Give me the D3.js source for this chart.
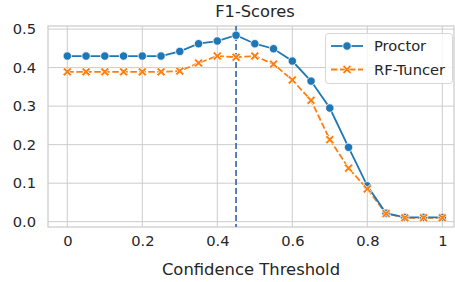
<!DOCTYPE html>
<html><head><meta charset="utf-8">
<script src="https://cdn.jsdelivr.net/npm/d3@7"></script>
<style>body{margin:0;background:#fff}svg{display:block;font-family:"DejaVu Sans",sans-serif}</style>
</head><body>
<script>
const thresholds = [0,0.05,0.1,0.15,0.2,0.25,0.3,0.35,0.4,0.45,0.5,0.55,0.6,0.65,0.7,0.75,0.8,0.85,0.9,0.95,1.0];
const proctor = [0.430,0.430,0.430,0.430,0.430,0.430,0.442,0.462,0.469,0.484,0.462,0.449,0.417,0.365,0.295,0.193,0.093,0.022,0.011,0.011,0.011];
const rfTuncer = [0.389,0.389,0.389,0.389,0.389,0.389,0.391,0.412,0.430,0.427,0.430,0.409,0.368,0.315,0.213,0.139,0.085,0.021,0.010,0.010,0.010];
const xTicks = [0,0.2,0.4,0.6,0.8,1];
const xTickLabels = ["0","0.2","0.4","0.6","0.8","1"];
const yTicks = [0,0.1,0.2,0.3,0.4,0.5];
const bestThreshold = 0.45;
const seriesNames = ["Proctor","RF-Tuncer"];

const W=455,H=282;
const plot={l:48,r:454,t:26,b:227};
const svg=d3.select("body").append("svg").attr("width",W).attr("height",H);
const x=d3.scaleLinear().domain([0,1]).range([67.3,442.3]);
const y=d3.scaleLinear().domain([-0.0138,0.508]).range([plot.b,plot.t]);

const grid="#cccccc";
svg.append("g").selectAll("line").data(yTicks).join("line")
  .attr("x1",plot.l).attr("x2",plot.r).attr("y1",d=>y(d)).attr("y2",d=>y(d))
  .attr("stroke",grid).attr("stroke-width",1);
svg.append("g").selectAll("line").data(xTicks).join("line")
  .attr("y1",plot.t).attr("y2",plot.b).attr("x1",d=>x(d)).attr("x2",d=>x(d))
  .attr("stroke",grid).attr("stroke-width",1);
svg.append("rect").attr("x",plot.l).attr("y",plot.t).attr("width",plot.r-plot.l).attr("height",plot.b-plot.t)
  .attr("fill","none").attr("stroke",grid).attr("stroke-width",1.25);

const xAxis=svg.append("g").attr("transform",`translate(0,${plot.b})`)
  .call(d3.axisBottom(x).tickValues(xTicks).tickFormat((d,i)=>xTickLabels[i]).tickSize(0).tickPadding(9));
const yAxis=svg.append("g").attr("transform",`translate(${plot.l},0)`)
  .call(d3.axisLeft(y).tickValues(yTicks).tickFormat(d3.format(".1f")).tickSize(0).tickPadding(12));
[xAxis,yAxis].forEach(a=>{a.select(".domain").remove();a.selectAll("text").attr("fill","#262626").style("font-size","14.7px").style("font-family","DejaVu Sans");});

svg.append("text").attr("x",(plot.l+plot.r)/2).attr("y",275).attr("text-anchor","middle")
  .attr("fill","#262626").style("font-size","16.4px").text("Confidence Threshold");
svg.append("text").attr("x",255).attr("y",17).attr("text-anchor","middle")
  .attr("fill","#262626").style("font-size","16.3px").text("F1-Scores");

svg.append("line").attr("x1",x(bestThreshold)).attr("x2",x(bestThreshold)).attr("y1",plot.t).attr("y2",plot.b)
  .attr("stroke","#4c72b0").attr("stroke-width",1.8).attr("stroke-dasharray","6,3");

const blue="#1f77b4",orange="#ff7f0e";
const line=d3.line().x((d,i)=>x(thresholds[i])).y(d=>y(d));
svg.append("path").datum(rfTuncer).attr("d",line).attr("fill","none").attr("stroke",orange).attr("stroke-width",1.8).attr("stroke-dasharray","6.5,2.5");
svg.append("path").datum(proctor).attr("d",line).attr("fill","none").attr("stroke",blue).attr("stroke-width",1.8);

const xPath=s=>{const a=s*0.5,b=s*0.2;return `M${-a},${-a+b}L${-a+b},${-a}L0,${-b}L${a-b},${-a}L${a},${-a+b}L${b},0L${a},${a-b}L${a-b},${a}L0,${b}L${-a+b},${a}L${-a},${a-b}L${-b},0Z`;};
svg.append("g").selectAll("circle").data(proctor).join("circle")
  .attr("cx",(d,i)=>x(thresholds[i])).attr("cy",d=>y(d)).attr("r",4.2)
  .attr("fill",blue).attr("stroke","#fff").attr("stroke-width",0.8);
svg.append("g").selectAll("path").data(rfTuncer).join("path")
  .attr("transform",(d,i)=>`translate(${x(thresholds[i])},${y(d)})`).attr("d",xPath(9))
  .attr("fill",orange).attr("stroke","#fff").attr("stroke-width",0.8);

const lg=svg.append("g");
lg.append("rect").attr("x",325.5).attr("y",33.5).attr("width",127).attr("height",50).attr("rx",3)
  .attr("fill","#fff").attr("fill-opacity",0.8).attr("stroke","#d6d6d6").attr("stroke-width",1);
const items=[{n:seriesNames[0],c:blue,dash:null,y:46,m:"c"},{n:seriesNames[1],c:orange,dash:"6.5,2.5",y:69.5,m:"x"}];
items.forEach(it=>{
  lg.append("line").attr("x1",331).attr("x2",363).attr("y1",it.y).attr("y2",it.y).attr("stroke",it.c).attr("stroke-width",1.8).attr("stroke-dasharray",it.dash);
  if(it.m==="c") lg.append("circle").attr("cx",347).attr("cy",it.y).attr("r",4.2).attr("fill",it.c).attr("stroke","#fff").attr("stroke-width",0.8);
  else lg.append("path").attr("transform",`translate(347,${it.y})`).attr("d",xPath(9)).attr("fill",it.c).attr("stroke","#fff").attr("stroke-width",0.8);
  lg.append("text").attr("x",374).attr("y",it.y+5.2).attr("fill","#262626").style("font-size","14.7px").text(it.n);
});
</script>
</body></html>
